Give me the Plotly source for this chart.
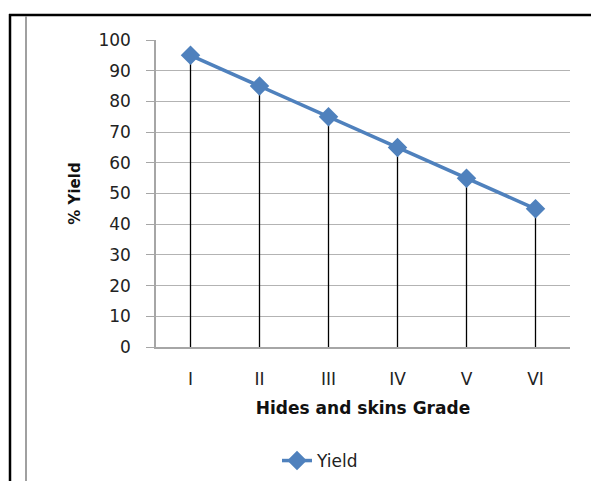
import plotly.graph_objects as go

grades = ["I", "II", "III", "IV", "V", "VI"]
yield_pct = [95, 85, 75, 65, 55, 45]
y_ticks = [0, 10, 20, 30, 40, 50, 60, 70, 80, 90, 100]

W, H = 591, 481
L, R, T, B = 156, 21, 40, 134
pw, ph = W - L - R, H - T - B

def px_x(p):
    return (p - L) / pw

def px_y(p):
    return (H - B - p) / ph

fig = go.Figure()
fig.add_trace(go.Scatter(
    x=grades, y=yield_pct, mode="lines+markers", name="Yield",
    line=dict(color="#4F81BD", width=3.5),
    marker=dict(symbol="diamond", size=15, color="#4F81BD"),
    error_y=dict(type="data", symmetric=False, array=[0] * len(yield_pct),
                 arrayminus=yield_pct, color="black", thickness=1.3, width=0),
))

font = "DejaVu Sans"
fig.update_layout(
    width=W, height=H,
    margin=dict(l=L, r=R, t=T, b=B, autoexpand=False),
    paper_bgcolor="white", plot_bgcolor="white",
    font=dict(family=font, size=17, color="#222"),
    showlegend=True,
    legend=dict(orientation="h", xref="container", yref="container",
                x=277 / W, y=1 - 461 / H, xanchor="left",
                yanchor="middle", font=dict(size=17), bgcolor="rgba(0,0,0,0)"),
    xaxis=dict(type="category", range=[-0.5, 5.5], showgrid=False,
               showline=True, linecolor="#a6a6a6", linewidth=1.5,
               ticks="", ticklabelstandoff=16, tickfont=dict(size=17),
               title=dict(text="<b>Hides and skins Grade</b>", font=dict(size=17, color="#111"),
                          standoff=14)),
    yaxis=dict(range=[0, 100], tickvals=y_ticks, showgrid=True, gridcolor="#b3b3b3",
               gridwidth=1, zeroline=False, showline=True, linecolor="#a6a6a6",
               linewidth=1.5, ticks="outside", ticklen=8, tickcolor="#a6a6a6",
               ticklabelstandoff=12, tickfont=dict(size=17),
               title=dict(text="<b>% Yield</b>", font=dict(size=15, color="#111"),
                          standoff=14)),
    shapes=[
        dict(type="line", xref="paper", yref="paper", x0=px_x(9), x1=px_x(595),
             y0=px_y(15), y1=px_y(15), line=dict(color="black", width=2.5)),
        dict(type="line", xref="paper", yref="paper", x0=px_x(10), x1=px_x(10),
             y0=px_y(14), y1=px_y(490), line=dict(color="black", width=2.5)),
        dict(type="line", xref="paper", yref="paper", x0=px_x(26), x1=px_x(26),
             y0=px_y(16), y1=px_y(490), line=dict(color="#a0a0a0", width=2)),
    ],
)

fig.write_html("out.html", config={"displayModeBar": False},
               post_script="document.body.style.margin='0';")
